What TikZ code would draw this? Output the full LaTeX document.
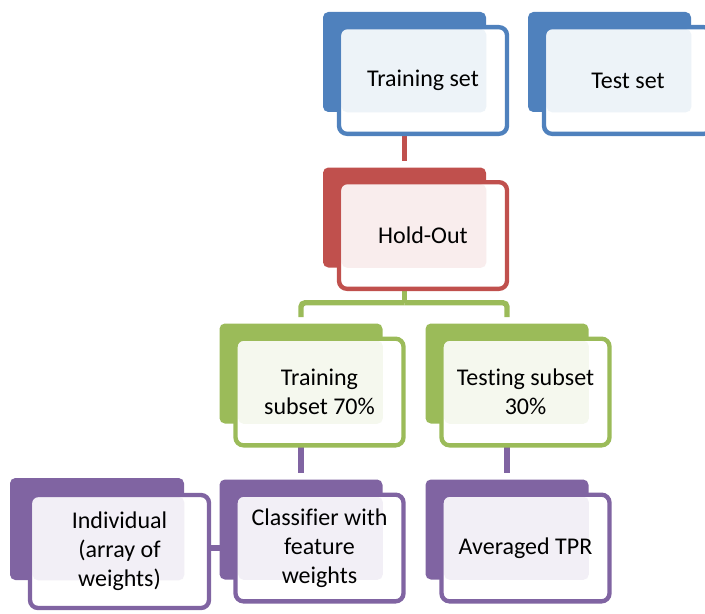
\documentclass[tikz,border=0pt]{standalone}
\usepackage{fontspec}
\setmainfont{Carlito}[Ligatures=NoCommon]
\usetikzlibrary{backgrounds}
\definecolor{myBlue}{HTML}{4F81BD}
\definecolor{myRed}{HTML}{C0504D}
\definecolor{myGreen}{HTML}{9BBB59}
\definecolor{myPurple}{HTML}{8064A2}
\tikzset{
myBack/.style={
	rectangle, rounded corners=4pt, fill=#1,
	inner sep=0pt, minimum width=122.25pt, minimum height=75pt
}
, myFront/.style 2 args={
	rectangle, rounded corners=6pt, draw=#1, line width=3.25pt, fill=white,
	inner sep=0pt, minimum width=126pt, minimum height=80pt,
	align=center, text=black, font=\fontsize{18pt}{21.75pt}\selectfont,
	path picture = {
		\fill[#1!10, rounded corners=4pt]
		([shift={(2pt,-1.5pt)}]path picture bounding box.north west) rectangle (#2.south east);
	}
}
% link
, myLink/.style={color=#1, line width=4pt, shorten >=4.5pt}
}
\begin{document}
\begin{tikzpicture}[x=0.75pt,y=-0.75pt]
	\useasboundingbox (0,0) rectangle (705,613);
	% back shapes
	\node[myBack=myBlue] (TrainBack) at (404.5,62) {};
	\node[myBack=myBlue] (TestBack) at (609.5,62) {};
	\node[myBack=myRed] (HoldBack) at (404.5,217.5) {};
	\node[myBack=myGreen] (TrainSubBack) at (301,373.5) {};
	\node[myBack=myGreen] (TestSubBack) at (507,373.5) {};
	\node[myBack=myPurple] (ClassBack) at (301,529.5) {};
	\node[myBack=myPurple] (AvgBack) at (507,529.5) {};
	\node[myBack=myPurple, minimum width=130.5pt, minimum height=76.5pt] (IndBack) at (97,529) {};
	% front shapes
	\node[myFront={myBlue}{TrainBack}] (TrainFront) at (423,80.5) {Training set};
	\node[myFront={myBlue}{TestBack}] (TestFront) at (628,80.5) {Test set};
	\node[myFront={myRed}{HoldBack}] (HoldFront) at (423,235.5) {Hold-Out};
	\node[myFront={myGreen}{TrainSubBack}] (TrainSubFront) at (319.5,392) {Training\\subset 70\%};
	\node[myFront={myGreen}{TestSubBack}] (TestSubFront) at (525.5,392) {Testing subset\\30\%};
	\node[myFront={myPurple}{ClassBack}] (ClassFront) at (319.5,548) {Classifier with\\feature\\weights};
	\node[myFront={myPurple}{AvgBack}] (AvgFront) at (525.5,548) {Averaged TPR};
	\node[myFront={myPurple}{IndBack}, minimum width=134.25pt, minimum height=84.75pt] (IndFront) at (119.5,551.5) {Individual\\(array of\\weights)};
	% links
	\begin{scope}[on background layer]
		\draw[myLink=myRed] (TrainBack.south) -- (HoldBack.north);
		\draw[myLink=myGreen, shorten >=0pt] (HoldBack.south) -- ++(0,35) coordinate (HoldFork);
		\draw[myLink=myGreen, rounded corners=3pt] (HoldFork) -| (TrainSubBack.north);
		\draw[myLink=myGreen, rounded corners=3pt] (HoldFork) -| (TestSubBack.north);
		\draw[myLink=myPurple] (TrainSubBack.south) -- (ClassBack.north);
		\draw[myLink=myPurple] (TestSubBack.south) -- (AvgBack.north);
		\draw[myLink=myPurple, shorten >=0pt] (IndFront.east |- ClassFront.center) -- (ClassFront.west);
	\end{scope}
\end{tikzpicture}
\end{document}
